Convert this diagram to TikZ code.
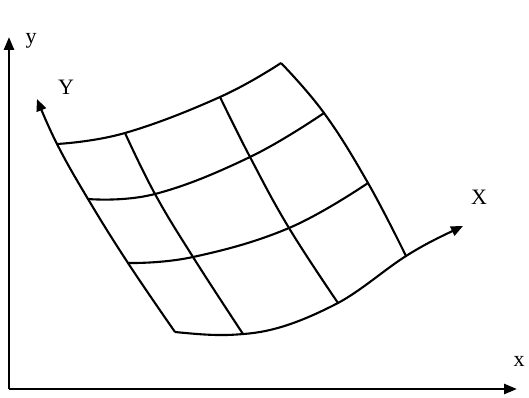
\documentclass[tikz,border=0pt]{standalone}
\usepackage{fontspec}
\setmainfont{Liberation Serif}
\usetikzlibrary{arrows.meta}
\tikzset{
  gridline/.style={line width=2.1pt, line join=round},
  axisline/.style={line width=2.6pt, -{Triangle[length=13pt,width=10pt]}},
  curvaxis/.style={line width=2.1pt, -{Triangle[length=12pt,width=10pt]}},
  lbl/.style={font=\fontsize{22}{22}\selectfont, inner sep=0pt}
}
\begin{document}
\begin{tikzpicture}[x=1pt,y=-1pt]
\useasboundingbox (0,0) rectangle (529,398);
% main axes
\coordinate (O) at (9,389);
\coordinate (ytip) at (9,37);
\coordinate (xtip) at (517,389);
\draw[axisline] (O) -- (ytip);
\draw[axisline] (O) -- (xtip);
\node[lbl] (ylab) at (31,41) {y};
\node[lbl] (xlab) at (519,361) {x};
% grid points
\coordinate (L0) at (175,332);
\coordinate (L1) at (128,263);
\coordinate (L2) at (88,199);
\coordinate (L3) at (57,144);
\coordinate (Ytip) at (37,99);
\coordinate (T1) at (125,133);
\coordinate (T2) at (220,97);
\coordinate (TR) at (281,63);
\coordinate (R2) at (324,113);
\coordinate (R1) at (368,183);
\coordinate (R0) at (406,256);
\coordinate (B1) at (243,334);
\coordinate (B2) at (338,303);
\coordinate (Xtip) at (463,226);
\coordinate (M21) at (155,194);
\coordinate (M22) at (250,157);
\coordinate (M11) at (193,257);
\coordinate (M12) at (289,228);
% curvilinear axes
\draw[curvaxis] plot[smooth, tension=0.7] coordinates {(L0) (L1) (L2) (L3) (Ytip)};
\draw[curvaxis] (L0) .. controls (205,335) and (222,336) .. (B1)
  .. controls (275,332) and (305,320) .. (B2)
  .. controls (362,290) and (384,270) .. (R0)
  .. controls (425,244) and (440,237) .. (Xtip);
\node[lbl] (Ylab) at (66,87) {Y};
\node[lbl] (Xlab) at (479,197) {X};
% boundary
\draw[gridline] plot[smooth, tension=0.7] coordinates {(L3) (T1) (T2) (TR)};
\draw[gridline] plot[smooth, tension=0.7] coordinates {(TR) (R2) (R1) (R0)};
% inner lines
\draw[gridline] plot[smooth, tension=0.7] coordinates {(L2) (M21) (M22) (R2)};
\draw[gridline] plot[smooth, tension=0.7] coordinates {(L1) (M11) (M12) (R1)};
\draw[gridline] plot[smooth, tension=0.7] coordinates {(T1) (M21) (M11) (B1)};
\draw[gridline] plot[smooth, tension=0.7] coordinates {(T2) (M22) (M12) (B2)};
\end{tikzpicture}
\end{document}
